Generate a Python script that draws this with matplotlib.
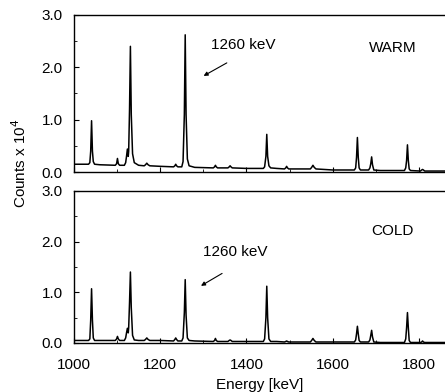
import matplotlib
matplotlib.use("Agg")
import matplotlib.pyplot as plt
from matplotlib.ticker import MultipleLocator, FormatStrFormatter

plt.rcParams['font.family'] = ['Liberation Sans', 'DejaVu Sans']
plt.rcParams['font.size'] = 11

# gamma spectra (counts in units of 10^4)
warm_energy = [1000, 1034, 1037, 1039, 1041, 1043, 1045, 1048, 1060, 1096,
               1099, 1101, 1103, 1106, 1117, 1120, 1122, 1124, 1126, 1127,
               1129, 1131, 1133, 1136, 1140, 1150, 1163, 1166, 1169, 1172,
               1176, 1200, 1231, 1234, 1236, 1238, 1241, 1250, 1253, 1256,
               1258, 1260, 1263, 1267, 1280, 1323, 1326, 1328, 1330, 1333,
               1357, 1360, 1362, 1364, 1367, 1400, 1439, 1442, 1445, 1447,
               1449, 1452, 1456, 1470, 1488, 1491, 1493, 1495, 1498, 1548,
               1551, 1554, 1557, 1561, 1600, 1650, 1653, 1655, 1657, 1659,
               1661, 1664, 1683, 1686, 1688, 1690, 1692, 1695, 1710, 1766,
               1769, 1771, 1773, 1775, 1777, 1780, 1803, 1806, 1808, 1810,
               1813, 1860]
warm_counts = [0.15, 0.15, 0.18, 0.40, 0.98, 0.40, 0.20, 0.15, 0.14, 0.13,
               0.16, 0.26, 0.16, 0.13, 0.13, 0.18, 0.30, 0.44, 0.30, 0.40,
               1.20, 2.40, 1.10, 0.35, 0.18, 0.13, 0.12, 0.14, 0.17, 0.14,
               0.12, 0.11, 0.10, 0.12, 0.15, 0.12, 0.10, 0.10, 0.20, 1.10,
               2.62, 1.10, 0.25, 0.12, 0.09, 0.08, 0.10, 0.13, 0.10, 0.08,
               0.08, 0.10, 0.12, 0.10, 0.08, 0.07, 0.07, 0.10, 0.30, 0.72,
               0.30, 0.12, 0.08, 0.07, 0.06, 0.08, 0.11, 0.08, 0.06, 0.06,
               0.09, 0.13, 0.09, 0.06, 0.04, 0.04, 0.08, 0.28, 0.66, 0.28,
               0.08, 0.04, 0.04, 0.08, 0.16, 0.29, 0.14, 0.04, 0.03, 0.03,
               0.08, 0.22, 0.52, 0.22, 0.06, 0.03, 0.02, 0.04, 0.05, 0.04,
               0.02, 0.02]

cold_energy = warm_energy
cold_counts = [0.05, 0.05, 0.08, 0.45, 1.07, 0.45, 0.10, 0.05, 0.05, 0.05,
               0.08, 0.13, 0.08, 0.05, 0.05, 0.10, 0.20, 0.29, 0.20, 0.30,
               0.80, 1.40, 0.70, 0.15, 0.06, 0.05, 0.05, 0.07, 0.10, 0.07,
               0.05, 0.05, 0.04, 0.07, 0.10, 0.07, 0.04, 0.04, 0.10, 0.60,
               1.25, 0.55, 0.10, 0.05, 0.04, 0.03, 0.05, 0.09, 0.05, 0.03,
               0.03, 0.05, 0.06, 0.05, 0.03, 0.03, 0.03, 0.08, 0.50, 1.12,
               0.50, 0.08, 0.03, 0.03, 0.02, 0.03, 0.04, 0.03, 0.02, 0.02,
               0.05, 0.09, 0.05, 0.02, 0.02, 0.02, 0.06, 0.18, 0.33, 0.18,
               0.05, 0.02, 0.02, 0.06, 0.15, 0.25, 0.12, 0.02, 0.01, 0.01,
               0.08, 0.30, 0.60, 0.30, 0.05, 0.01, 0.01, 0.02, 0.04, 0.02,
               0.01, 0.01]

fig = plt.figure(figsize=(4.45, 3.92), dpi=100)
ax1 = fig.add_axes([0.166, 0.561, 0.834, 0.401])
ax2 = fig.add_axes([0.166, 0.125, 0.834, 0.388])

ax1.plot(warm_energy, warm_counts, color='k', lw=1.1)
ax2.plot(cold_energy, cold_counts, color='k', lw=1.1)

for ax in (ax1, ax2):
    ax.set_xlim(1000, 1860)
    ax.set_ylim(0, 3.0)
    ax.spines['right'].set_visible(False)
    for s in ('left', 'top', 'bottom'):
        ax.spines[s].set_linewidth(1.0)
    ax.yaxis.set_major_locator(MultipleLocator(1.0))
    ax.yaxis.set_minor_locator(MultipleLocator(0.5))
    ax.yaxis.set_major_formatter(FormatStrFormatter('%.1f'))
    ax.xaxis.set_major_locator(MultipleLocator(200))
    ax.xaxis.set_minor_locator(MultipleLocator(100))
    ax.tick_params(which='both', direction='in', right=False, top=False)
    ax.tick_params(which='major', length=3.5, width=0.8, pad=8, labelsize=11)
    ax.tick_params(which='minor', length=2, width=0.6)

ax1.tick_params(axis='x', labelbottom=False)
ax2.tick_params(axis='x', which='major', pad=11)

# annotations
ax1.annotate('', xy=(1295, 1.81), xytext=(1360, 2.11),
             arrowprops=dict(arrowstyle='-|>', color='k', lw=0.8,
                             mutation_scale=6))
ax1.text(1318, 2.43, '1260 keV', ha='left', va='center', fontsize=11)
ax1.text(1684, 2.36, 'WARM', ha='left', va='center', fontsize=11)

ax2.annotate('', xy=(1289, 1.10), xytext=(1349, 1.40),
             arrowprops=dict(arrowstyle='-|>', color='k', lw=0.8,
                             mutation_scale=6))
ax2.text(1300, 1.80, '1260 keV', ha='left', va='center', fontsize=11)
ax2.text(1690, 2.20, 'COLD', ha='left', va='center', fontsize=11)

ax2.set_xlabel('Energy [keV]', fontsize=11, labelpad=4)
fig.text(0.045, 1 - 163 / 392, r'Counts x 10$^4$', rotation=90,
         ha='center', va='center', fontsize=11)

fig.savefig('out.png', dpi=100)
